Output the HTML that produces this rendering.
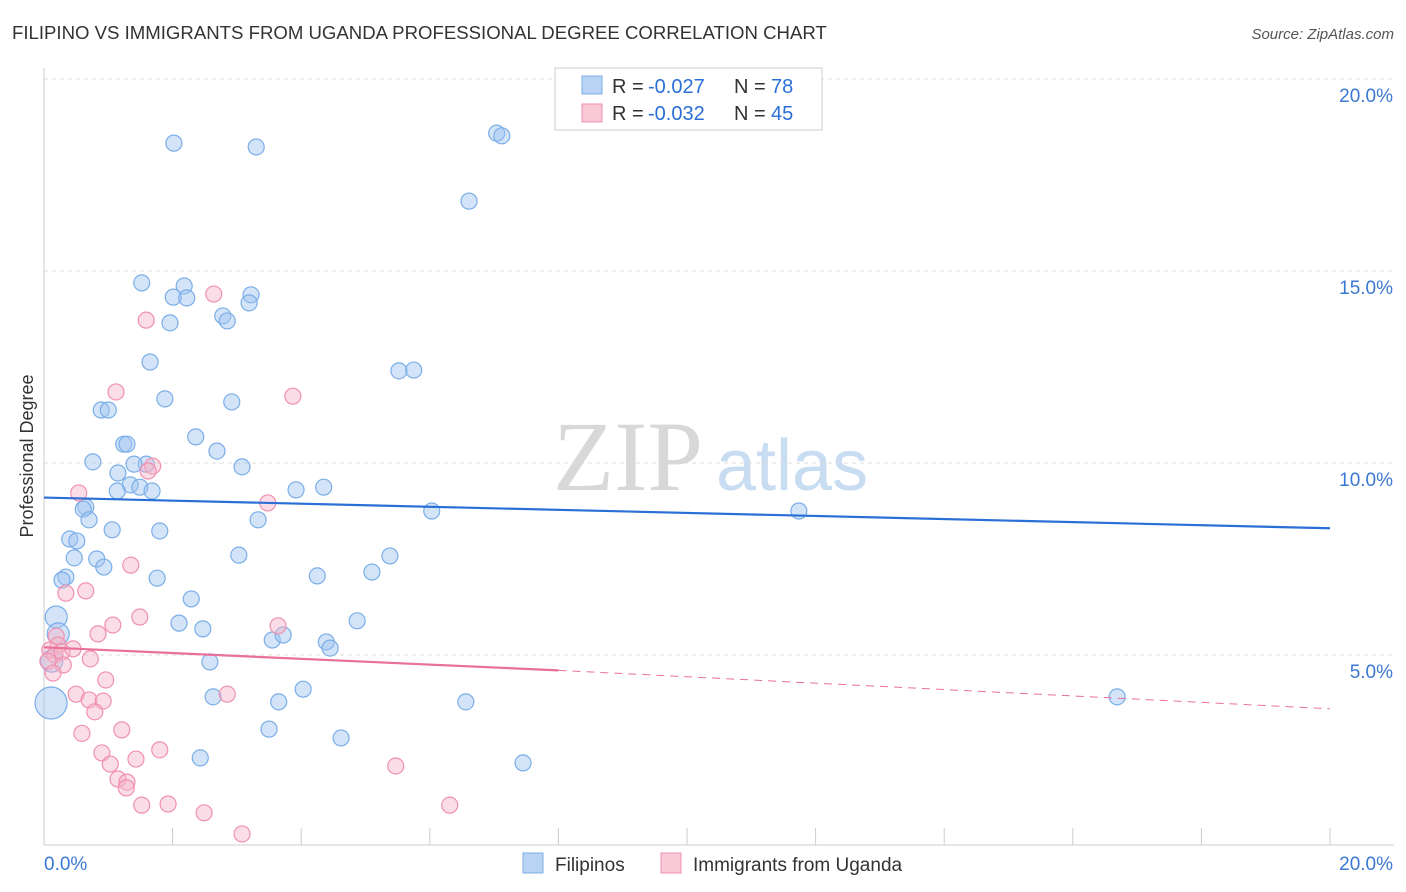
<!DOCTYPE html>
<html><head><meta charset="utf-8">
<style>
body{margin:0;background:#fff;font-family:"Liberation Sans",sans-serif;}
svg{display:block}
</style></head>
<body>
<svg id="chart" width="1406" height="892" xmlns="http://www.w3.org/2000/svg">
<text x="12" y="39" font-size="18.6" fill="#333">FILIPINO VS IMMIGRANTS FROM UGANDA PROFESSIONAL DEGREE CORRELATION CHART</text>
<text x="1394" y="39" font-size="15" fill="#555" font-style="italic" text-anchor="end">Source: ZipAtlas.com</text>
<text transform="translate(33,456) rotate(-90)" font-size="18" fill="#333" text-anchor="middle">Professional Degree</text>
<g>
<text x="553" y="490" font-size="100" fill="#d8d8d8" font-family="Liberation Serif,serif">ZIP</text>
<text x="716" y="490" font-size="72" fill="#c8dcf2">atlas</text>
</g>
<g id="grid"></g>
<g id="axes"></g>
<g id="marks"></g>
<g>
<rect x="555" y="68" width="267" height="62" fill="#fff" stroke="#ccc"/>
<rect x="582" y="76" width="20" height="18" fill="#b9d3f5" stroke="#7aaee8"/>
<text y="93" font-size="20" fill="#333"><tspan x="612">R =</tspan><tspan x="648" fill="#2a6fd6">-0.027</tspan><tspan x="734">N =</tspan><tspan x="771" fill="#2a6fd6">78</tspan></text>
<rect x="582" y="104" width="20" height="18" fill="#f9c9d8" stroke="#f090b0"/>
<text y="120" font-size="20" fill="#333"><tspan x="612">R =</tspan><tspan x="648" fill="#2a6fd6">-0.032</tspan><tspan x="734">N =</tspan><tspan x="771" fill="#2a6fd6">45</tspan></text>
</g>
<g>
<rect x="523" y="853" width="20" height="20" fill="#b9d3f5" stroke="#7aaee8"/>
<text x="555" y="871" font-size="19" fill="#333">Filipinos</text>
<rect x="661" y="853" width="20" height="20" fill="#f9c9d8" stroke="#f090b0"/>
<text x="693" y="871" font-size="19" fill="#333">Immigrants from Uganda</text>
</g>
</svg>
<script>
const yTicks=[5,10,15,20];
const xTickLabels=["0.0%","20.0%"];
const blueX=[2.02,3.30,7.04,7.12,6.61,1.52,2.01,2.18,2.22,3.22,3.19,2.78,2.85,1.96,1.65,5.52,5.75,1.88,2.92,0.89,1.00,2.36,1.24,1.29,2.69,0.76,1.59,1.15,1.40,3.08,1.34,1.49,1.14,1.68,3.92,4.35,0.65,0.61,0.70,6.03,11.74,3.33,1.06,1.80,0.40,0.51,0.82,0.47,3.03,5.38,0.93,4.25,5.10,0.34,0.28,1.76,2.29,0.19,2.10,2.47,4.87,0.22,3.55,3.72,4.39,4.45,2.58,0.12,4.03,2.63,3.65,6.56,16.69,0.11,3.50,4.62,2.43,7.45];
const blueY=[18.33,18.23,18.59,18.52,16.82,14.69,14.32,14.61,14.30,14.38,14.17,13.83,13.70,13.65,12.63,12.40,12.42,11.67,11.59,11.38,11.38,10.68,10.49,10.49,10.31,10.03,9.97,9.74,9.97,9.90,9.43,9.37,9.27,9.27,9.30,9.37,8.85,8.80,8.52,8.75,8.75,8.52,8.26,8.23,8.02,7.97,7.50,7.53,7.60,7.58,7.29,7.06,7.16,7.03,6.95,7.00,6.46,5.99,5.83,5.68,5.89,5.55,5.39,5.52,5.34,5.18,4.82,4.84,4.11,3.91,3.78,3.78,3.91,3.75,3.07,2.84,2.32,2.19];
const blueR=[8,8,8,8,8,8,8,8,8,8,8,8,8,8,8,8,8,8,8,8,8,8,8,8,8,8,8,8,8,8,8,8,8,8,8,8,8,8,8,8,8,8,8,8,8,8,8,8,8,8,8,8,8,8,8,8,8,11,8,8,8,11,8,8,8,8,8,11,8,8,8,8,8,16,8,8,8,8];
const pinkX=[0.19,0.22,0.09,0.17,0.28,0.06,0.30,0.45,0.72,0.34,0.65,0.54,1.12,1.59,2.64,3.87,3.48,1.69,1.62,1.35,1.49,1.07,0.84,0.96,0.50,0.70,0.92,0.79,2.85,0.59,1.21,0.90,1.80,1.03,1.43,1.15,1.29,1.28,1.52,1.93,2.49,3.08,3.64,5.47,6.31,0.14];
const pinkY=[5.49,5.26,5.13,5.00,5.08,4.84,4.74,5.16,4.90,6.61,6.67,9.22,11.85,13.72,14.40,11.74,8.96,9.92,9.79,7.34,5.99,5.78,5.55,4.35,3.98,3.83,3.80,3.52,3.98,2.96,3.05,2.45,2.53,2.16,2.29,1.77,1.69,1.54,1.09,1.12,0.89,0.34,5.76,2.11,1.09,4.53];
const blueLine=[9.1,8.3];
const pinkLine=[5.2,4.6,3.6];
const NS="http://www.w3.org/2000/svg";
const X=v=>44+v*64.3, Y=v=>847-v*38.4;
function mk(t,a,p){const e=document.createElementNS(NS,t);for(const k in a)e.setAttribute(k,a[k]);p.appendChild(e);return e;}
const grid=document.getElementById('grid'),axes=document.getElementById('axes'),marks=document.getElementById('marks');
yTicks.forEach(t=>{
 const l=mk('line',{x1:44,x2:1394,y1:Y(t),y2:Y(t),stroke:'#ddd','stroke-dasharray':'4,4'},grid);
 
 
 const tx=mk('text',{x:1393,y:Y(t)+23,'font-size':19,fill:'#3a78d4','text-anchor':'end'},axes);
 tx.textContent=t.toFixed(1)+'%';
 
 
});
const ya=mk('line',{x1:44,x2:44,y1:68,y2:845,stroke:'#ccc'},axes);


const xa=mk('line',{x1:44,x2:1394,y1:845,y2:845,stroke:'#ccc'},axes);


for(let i=1;i<=10;i++){const t=mk('line',{x1:X(i*2),x2:X(i*2),y1:828,y2:845,stroke:'#ccc'},axes);
 
 }
const xl0=mk('text',{x:44,y:870,'font-size':19,fill:'#3a78d4'},axes);xl0.textContent=xTickLabels[0];


const xl1=mk('text',{x:1393,y:870,'font-size':19,fill:'#3a78d4','text-anchor':'end'},axes);xl1.textContent=xTickLabels[1];


blueX.forEach((v,i)=>{const c=mk('circle',{cx:X(v),cy:Y(blueY[i]),r:blueR[i],fill:'rgba(160,196,240,0.45)',stroke:'#7aaee8','stroke-width':1.2},marks);
 
 });
pinkX.forEach((v,i)=>{const c=mk('circle',{cx:X(v),cy:Y(pinkY[i]),r:8,fill:'rgba(245,180,200,0.45)',stroke:'#f090b0','stroke-width':1.2},marks);
 
 });
const bl=mk('line',{x1:X(0),y1:Y(blueLine[0]),x2:X(20),y2:Y(blueLine[1]),stroke:'#2a6fd6','stroke-width':2.2},marks);


const pl=mk('line',{x1:X(0),y1:Y(pinkLine[0]),x2:X(8),y2:Y(pinkLine[1]),stroke:'#e8709a','stroke-width':2.2},marks);


const pd=mk('line',{x1:X(8),y1:Y(pinkLine[1]),x2:X(20),y2:Y(pinkLine[2]),stroke:'#e8709a','stroke-width':1,'stroke-dasharray':'8,6'},marks);


</script>
</body></html>
